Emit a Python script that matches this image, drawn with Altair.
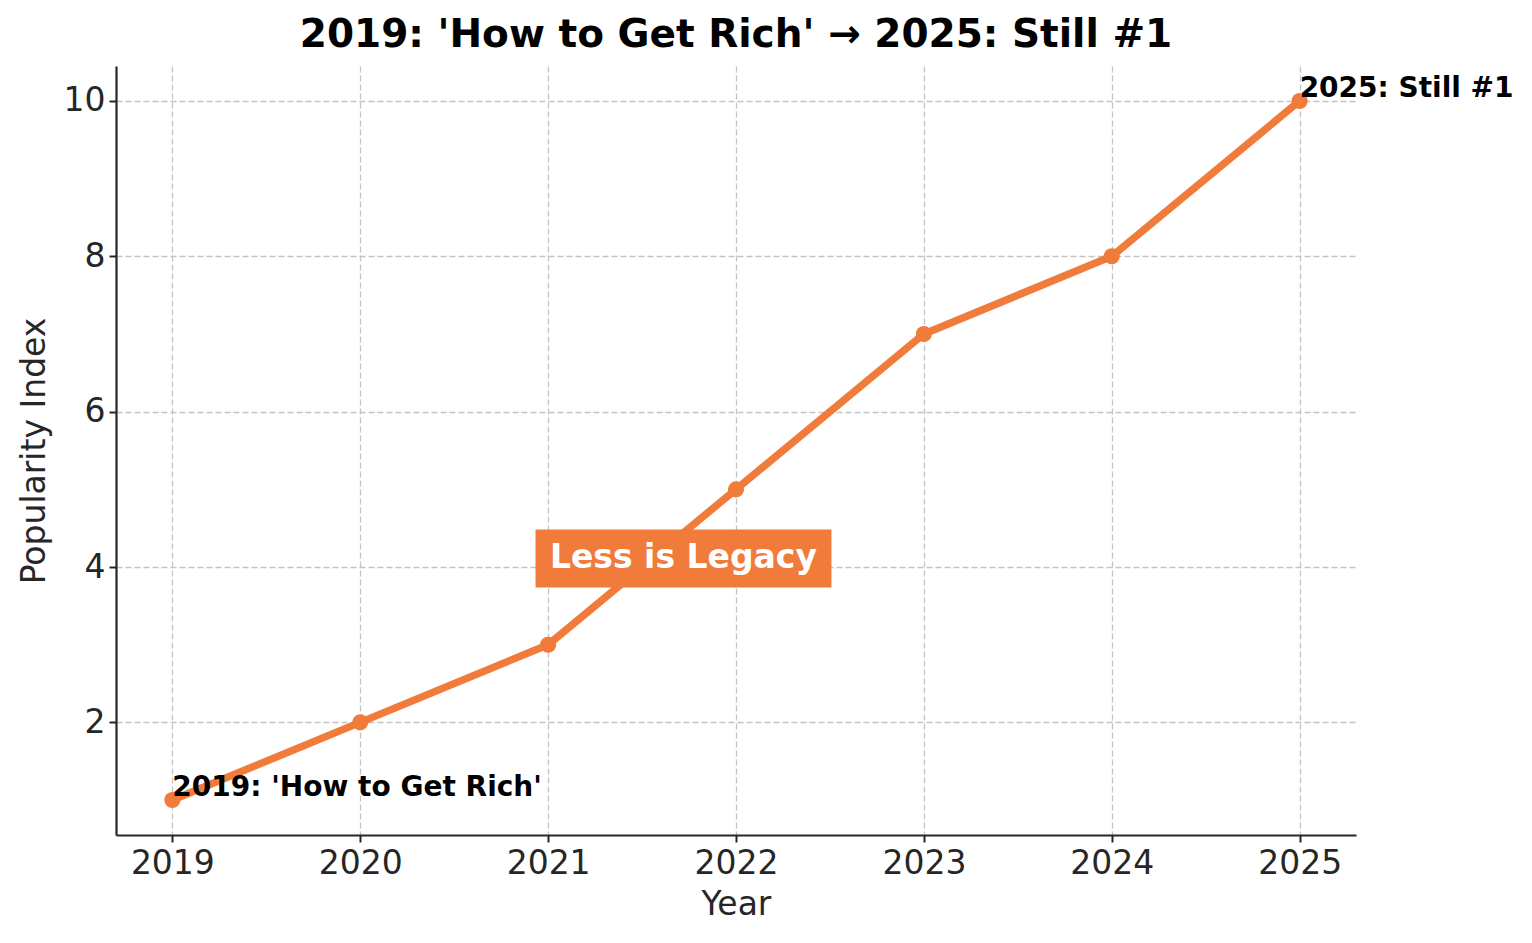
import altair as alt
import pandas as pd

years = [2019, 2020, 2021, 2022, 2023, 2024, 2025]
popularity = [1, 2, 3, 5, 7, 8, 10]

title_text = "2019: 'How to Get Rich' \u2192 2025: Still #1"
ann_labels = ["2019: 'How to Get Rich'", "2025: Still #1"]
ann_x = [2019, 2025]
ann_y = [1, 10]

box_label = ["Less is Legacy"]
box_x = [2021.72]
box_y = [4.11]
box_x1 = [2020.933]
box_x2 = [2022.508]
box_y1 = [3.736]
box_y2 = [4.482]

ORANGE = "#F07B3A"
FONT = "DejaVu Sans"
DARK = "#262626"

df = pd.DataFrame({"Year": years, "Popularity Index": popularity})
ann = pd.DataFrame({"x": ann_x, "y": ann_y, "label": ann_labels})
box = pd.DataFrame({"x": box_x, "y": box_y, "x1": box_x1, "x2": box_x2,
                    "y1": box_y1, "y2": box_y2, "label": box_label})

xscale = alt.Scale(domain=[2018.7, 2025.3], nice=False, zero=False)
yscale = alt.Scale(domain=[0.55, 10.45], nice=False, zero=False)

common = dict(grid=True, gridDash=[6, 3], gridColor="#c4c4c4", gridWidth=1.3,
              domainColor=DARK, domainWidth=2.2, tickColor=DARK,
              tickWidth=2, tickSize=7, labelFontSize=33, labelColor=DARK,
              titleFontSize=33, titleFontWeight="normal",
              titleColor=DARK, labelFont=FONT, titleFont=FONT)
xaxis = alt.Axis(values=years, format="d", title="Year", labelPadding=5,
                 titlePadding=8, **common)
yaxis = alt.Axis(values=[2, 4, 6, 8, 10], format="d", title="Popularity Index",
                 labelPadding=4, titlePadding=12, **common)

base = alt.Chart(df)
line = base.mark_line(color=ORANGE, strokeWidth=7.5).encode(
    x=alt.X("Year:Q", scale=xscale, axis=xaxis),
    y=alt.Y("Popularity Index:Q", scale=yscale, axis=yaxis),
)
pts = base.mark_circle(color=ORANGE, size=260, opacity=1).encode(
    x=alt.X("Year:Q", scale=xscale),
    y=alt.Y("Popularity Index:Q", scale=yscale),
)
ann_text = alt.Chart(ann).mark_text(align="left", baseline="alphabetic", dy=-4,
                                    font=FONT, fontSize=28, fontWeight="bold",
                                    color="black").encode(
    x=alt.X("x:Q", scale=xscale), y=alt.Y("y:Q", scale=yscale), text="label:N")
rect = alt.Chart(box).mark_rect(color=ORANGE, opacity=1).encode(
    x=alt.X("x1:Q", scale=xscale), x2="x2:Q",
    y=alt.Y("y1:Q", scale=yscale), y2="y2:Q")
box_text = alt.Chart(box).mark_text(align="center", baseline="middle",
                                    font=FONT, fontSize=33, fontWeight="bold",
                                    color="white").encode(
    x=alt.X("x:Q", scale=xscale), y=alt.Y("y:Q", scale=yscale), text="label:N")

chart = alt.layer(line, pts, ann_text, rect, box_text).properties(
    width=1240, height=769,
    title=alt.TitleParams(title_text, font=FONT, fontSize=39, fontWeight="bold",
                          color="black", anchor="middle", offset=11),
    autosize=alt.AutoSizeParams(type="none"),
    padding={"left": 116, "top": 66, "right": 176, "bottom": 108},
    background="white",
).configure_view(stroke=None)

chart.save("out.html", embed_options={"renderer": "svg", "actions": False})
